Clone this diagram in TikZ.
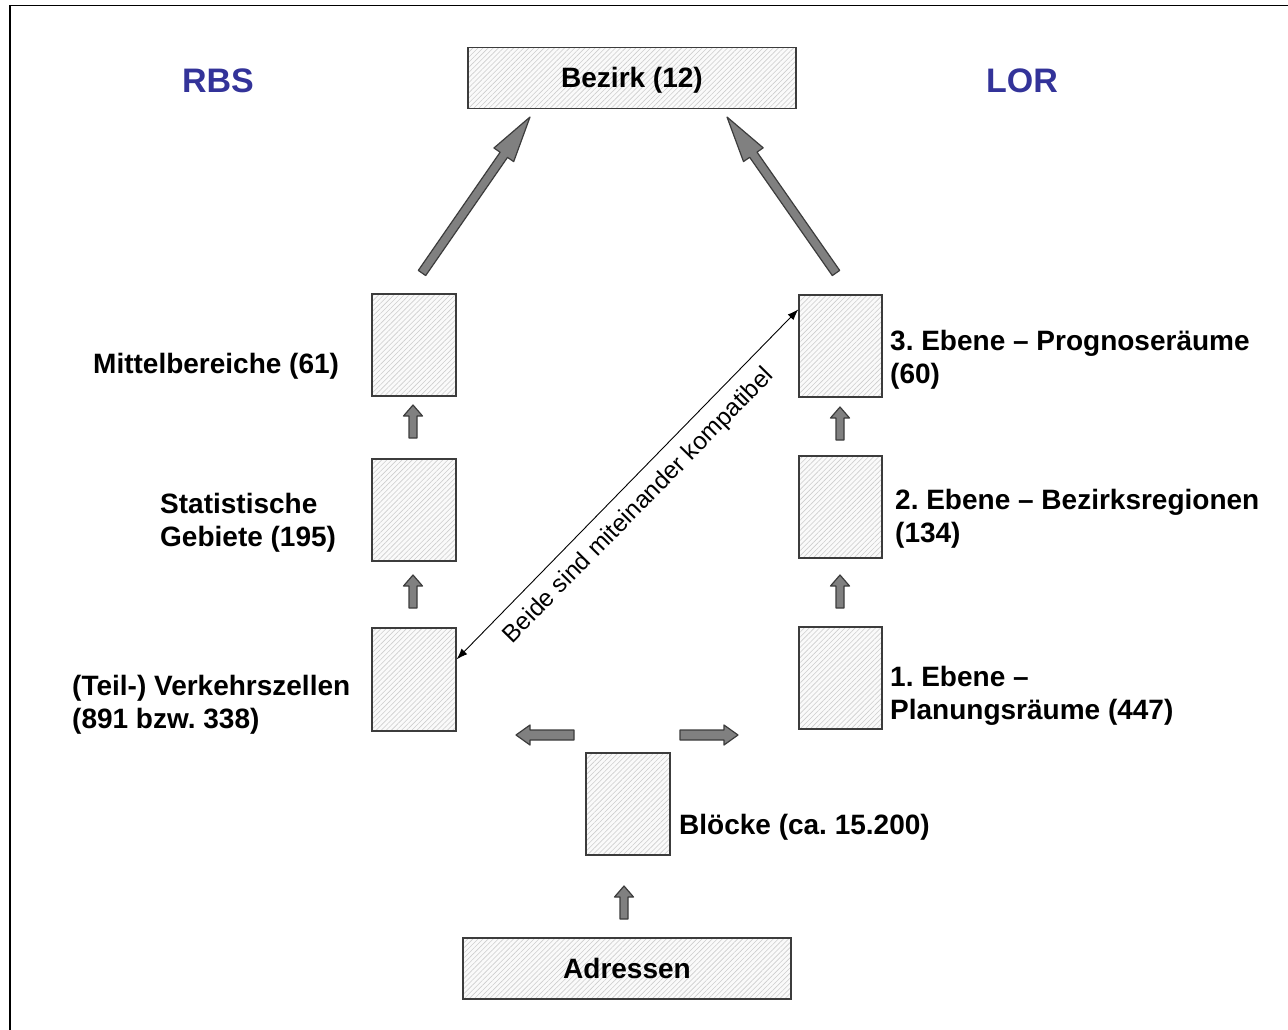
\documentclass[tikz,border=0pt]{standalone}
\usepackage{fontspec}
\setmainfont{Liberation Sans}
\usetikzlibrary{arrows.meta,patterns.meta,calc}
\definecolor{rbsblue}{RGB}{51,51,153}
\definecolor{hatchgray}{RGB}{205,205,205}
\definecolor{arrowgray}{RGB}{128,128,128}
\definecolor{edgegray}{RGB}{60,60,60}

\newcommand{\blockarrow}[7]{%
  \pgfmathsetmacro{\baang}{atan2(-(#4-#2),#3-#1)}%
  \pgfmathsetmacro{\balen}{veclen(#3-#1,#4-#2)}%
  \pgfmathsetmacro{\babase}{\balen-#7}%
  \begin{scope}[shift={(#1,#2)},rotate=\baang]
    \draw[barrow] (0,-#5) -- (\babase,-#5) -- (\babase,-#6) -- (\balen,0) -- (\babase,#6) -- (\babase,#5) -- (0,#5) -- cycle;
  \end{scope}}

\begin{document}
\frenchspacing
\begin{tikzpicture}[x=1pt,y=-1pt,
  box/.style={draw=edgegray, line width=1.3pt, inner sep=0pt,
    text height=20pt, text depth=1pt,
    preaction={fill=black!2},
    pattern={Lines[angle=45,distance=3.6pt,line width=0.6pt]}, pattern color=hatchgray,
    font=\bfseries\fontsize{28}{33.5}\selectfont},
  lbl/.style={inner sep=0pt, anchor=west, align=left,
    font=\bfseries\fontsize{28}{33.5}\selectfont},
  head/.style={inner sep=0pt, text=rbsblue, font=\bfseries\fontsize{34}{40}\selectfont},
  barrow/.style={fill=arrowgray, draw=edgegray, line width=1.2pt, line join=round},
  compat/.style={line width=0.9pt, {Latex[length=11pt,width=8pt]}-{Latex[length=11pt,width=8pt]}}]
\useasboundingbox (0,0) rectangle (1288,1030);
\draw[line width=1.6pt] (10,1030) -- (10,5.5) -- (1288,5.5);

% boxes
\node[box, minimum width=328, minimum height=61] (bez) at (632,78) {Bezirk (12)};
\node[box, minimum width=84, minimum height=102] (mb) at (414,345) {};
\node[box, minimum width=84, minimum height=102] (sg) at (414,510) {};
\node[box, minimum width=84, minimum height=103] (vz) at (414,679.5) {};
\node[box, minimum width=83, minimum height=102] (e3) at (840.5,346) {};
\node[box, minimum width=83, minimum height=102] (e2) at (840.5,507) {};
\node[box, minimum width=83, minimum height=102] (e1) at (840.5,678) {};
\node[box, minimum width=84, minimum height=102] (bl) at (628,804) {};
\node[box, minimum width=328, minimum height=61] (ad) at (627,968.5) {Adressen};

% headings
\node[head] (rbs) at (218,81) {RBS};
\node[head] (lor) at (1022,81) {LOR};

% labels
\node[lbl] (lmb) at (93,366) {Mittelbereiche (61)};
\node[lbl] (lsg) at (160,523) {Statistische\\Gebiete (195)};
\node[lbl] (lvz) at (72,705) {(Teil-) Verkehrszellen\\(891 bzw. 338)};
\node[lbl] (le3) at (890,360) {3. Ebene – Prognoseräume\\(60)};
\node[lbl] (le2) at (895,519) {2. Ebene – Bezirksregionen\\(134)};
\node[lbl] (le1) at (890,696) {1. Ebene –\\Planungsräume (447)};
\node[lbl] (lbl) at (679,827) {Blöcke (ca. 15.200)};

% compatibility arrow
\draw[compat] ($(vz.north east)+(0,32)$) -- ($(e3.north west)+(0,15)$);
\node[inner sep=0pt, rotate=45.5, font=\fontsize{24.5}{28}\selectfont] (ctext) at (639,506) {Beide sind miteinander kompatibel};

% block arrows
\blockarrow{422}{273}{530}{117}{4.5}{12}{46}
\blockarrow{836}{273}{727}{117}{4.5}{12}{46}
\blockarrow{413}{438}{413}{405}{4}{9.5}{11}
\blockarrow{413}{608}{413}{575}{4}{9.5}{11}
\blockarrow{840}{440}{840}{407}{4}{9.5}{11}
\blockarrow{840}{608}{840}{575}{4}{9.5}{11}
\blockarrow{624}{919}{624}{886}{4}{9.5}{11}
\blockarrow{574}{735}{516}{735}{5}{10}{14}
\blockarrow{680}{735}{738}{735}{5}{10}{14}
\end{tikzpicture}
\end{document}
